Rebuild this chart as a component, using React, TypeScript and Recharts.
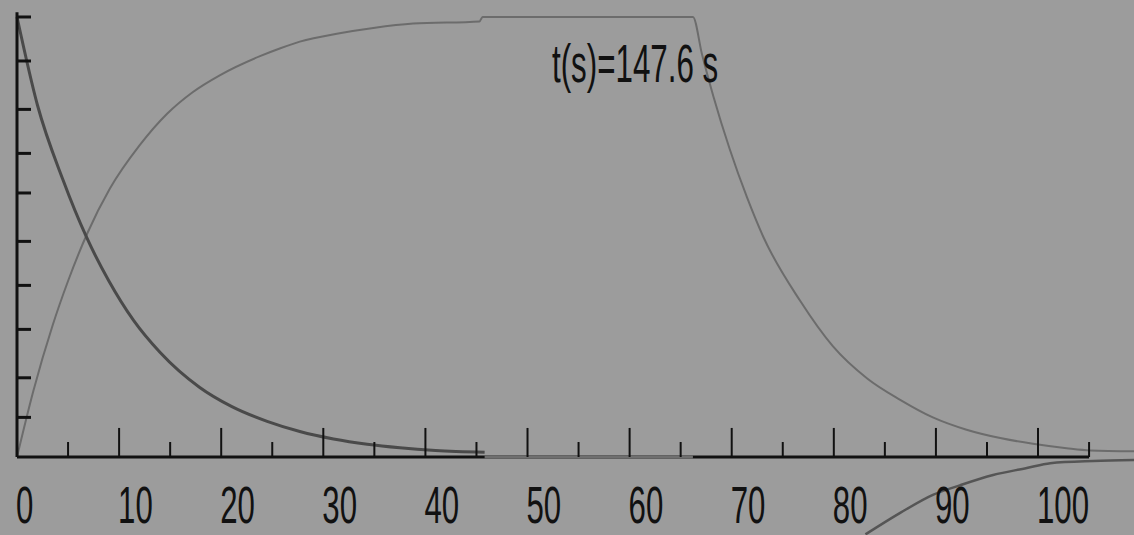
import React from "react";
import { LineChart, Line, XAxis, YAxis, ReferenceLine } from "recharts";

// decaying curve (dark)
const decayX = [0, 2, 4.5, 6.8, 9, 11.4, 14, 17.9, 21, 24.5, 27.7, 31, 34.3, 37.5, 41, 45.8];
const decayV = [1.0, 0.8, 0.63, 0.5, 0.4, 0.311, 0.238, 0.158, 0.115, 0.081, 0.058, 0.041, 0.029, 0.021, 0.015, 0.011];

// charge / hold / discharge curve (light)
const chargeX = [
  0, 1.6, 3.5, 5, 6.9, 9.1, 12, 14.7, 17.2, 19.9, 23.8, 25.8, 27.7, 31.6, 34.9, 38.8, 45.3, 45.6,
  66.2, 67.1, 68.2, 69.8, 71.5, 73.1, 76.7, 79.9, 83.3, 86.5, 89.7, 93, 96.3, 99.5, 102.8, 105.1, 109.4,
];
const chargeV = [
  0, 0.15, 0.3, 0.4, 0.509, 0.61, 0.708, 0.78, 0.829, 0.868, 0.911, 0.929, 0.944, 0.963, 0.975, 0.985, 0.99, 1.0,
  1.0, 0.914, 0.82, 0.7, 0.59, 0.5, 0.355, 0.252, 0.178, 0.13, 0.09, 0.062, 0.043, 0.03, 0.02, 0.015, 0.013,
];

// negative curve under the axis
const negX = [83.1, 86.5, 89.7, 92.4, 95.6, 98.9, 101.2, 105.4, 109.4];
const negV = [-0.176, -0.127, -0.086, -0.064, -0.041, -0.025, -0.014, -0.009, -0.007];

const majorTicks = [0, 10, 20, 30, 40, 50, 60, 70, 80, 90, 100];
const minorTicks = [5, 15, 25, 35, 45, 55, 65, 75, 85, 95, 105];
const yTicks = [0.09, 0.18, 0.29, 0.39, 0.49, 0.6, 0.69, 0.79, 0.9, 1.0];

const toPoints = (xs: number[], vs: number[]) => xs.map((x, i) => ({ x, v: vs[i] }));

const decayData = toPoints(decayX, decayV);
const chargeData = toPoints(chargeX, chargeV);
const negData = toPoints(negX, negV);

const FONT = "'Liberation Sans', Arial, sans-serif";

const XTickLabel = (props: any) => {
  const { viewBox, text } = props;
  if (!viewBox) return null;
  const x = viewBox.x - 1;
  const y = viewBox.y + viewBox.height + 66;
  return (
    <text
      transform={`translate(${x}, ${y}) scale(0.6, 1)`}
      fontFamily={FONT}
      fontSize={52}
      fill="#111"
    >
      {text}
    </text>
  );
};

export default function App() {
  return (
    <div
      style={{
        position: "absolute",
        left: 0,
        top: 0,
        width: 1134,
        height: 535,
        background: "#9c9c9c",
        overflow: "hidden",
      }}
    >
      <LineChart width={1134} height={535} margin={{ top: 0, right: 0, bottom: 0, left: 17 }}>
        <XAxis type="number" dataKey="x" domain={[0, 109.4]} hide />
        <YAxis type="number" domain={[-0.1773, 1.0386]} hide />
        <Line
          data={chargeData}
          dataKey="v"
          type="monotone"
          stroke="#6c6c6c"
          strokeWidth={2}
          dot={false}
          isAnimationActive={false}
        />
        <Line
          data={decayData}
          dataKey="v"
          type="monotone"
          stroke="#4a4a4a"
          strokeWidth={3}
          dot={false}
          isAnimationActive={false}
        />
        <Line
          data={negData}
          dataKey="v"
          type="monotone"
          stroke="#555"
          strokeWidth={2.5}
          dot={false}
          isAnimationActive={false}
        />
        {/* axes drawn by hand */}
        <ReferenceLine
          segment={[{ x: 0, y: 0 }, { x: 0, y: 1.011 }]}
          stroke="#111"
          strokeWidth={3}
          ifOverflow="visible"
        />
        {yTicks.map((t) => (
          <ReferenceLine
            key={`yt-${t}`}
            segment={[{ x: 0, y: t }, { x: 1.37, y: t }]}
            stroke="#111"
            strokeWidth={3}
            ifOverflow="visible"
          />
        ))}
        <ReferenceLine
          segment={[{ x: 0, y: 0 }, { x: 105, y: 0 }]}
          stroke="#111"
          strokeWidth={3}
          ifOverflow="visible"
        />
        <ReferenceLine
          segment={[{ x: 45.8, y: 0 }, { x: 66.2, y: 0 }]}
          stroke="#6f6f6f"
          strokeWidth={3}
          ifOverflow="visible"
        />
        {majorTicks.map((t) => (
          <ReferenceLine
            key={`mj-${t}`}
            segment={[{ x: t, y: 0 }, { x: t, y: 0.066 }]}
            stroke="#111"
            strokeWidth={2}
            ifOverflow="visible"
            label={<XTickLabel text={String(t)} />}
          />
        ))}
        {minorTicks.map((t) => (
          <ReferenceLine
            key={`mn-${t}`}
            segment={[{ x: t, y: 0 }, { x: t, y: 0.034 }]}
            stroke="#111"
            strokeWidth={2}
            ifOverflow="visible"
          />
        ))}
      </LineChart>
      <svg
        width={1134}
        height={535}
        style={{ position: "absolute", left: 0, top: 0, pointerEvents: "none" }}
      >
        <text
          transform="translate(552, 82) scale(0.58, 1)"
          fontFamily={FONT}
          fontSize={54}
          fill="#111"
        >
          t(s)=147.6 s
        </text>
      </svg>
    </div>
  );
}
